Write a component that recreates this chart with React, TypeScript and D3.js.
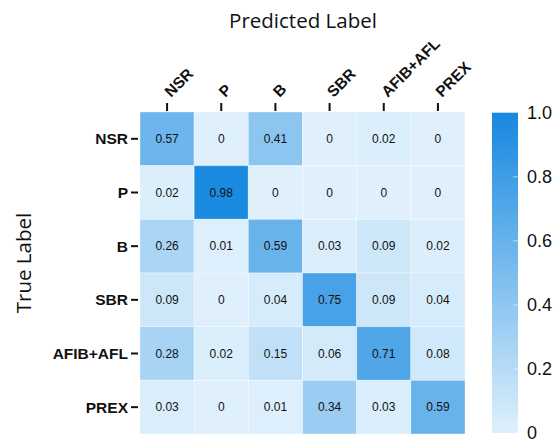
import React from "react";
import * as d3 from "d3";

const predLabels = ["NSR", "P", "B", "SBR", "AFIB+AFL", "PREX"];
const trueLabels = ["NSR", "P", "B", "SBR", "AFIB+AFL", "PREX"];
const rowNSR = [0.57, 0, 0.41, 0, 0.02, 0];
const rowP = [0.02, 0.98, 0, 0, 0, 0];
const rowB = [0.26, 0.01, 0.59, 0.03, 0.09, 0.02];
const rowSBR = [0.09, 0, 0.04, 0.75, 0.09, 0.04];
const rowAFIB = [0.28, 0.02, 0.15, 0.06, 0.71, 0.08];
const rowPREX = [0.03, 0, 0.01, 0.34, 0.03, 0.59];
const matrix = [rowNSR, rowP, rowB, rowSBR, rowAFIB, rowPREX];
const cbTicks = [0, 0.2, 0.4, 0.6, 0.8, 1.0];

const W = 553, H = 439;
const left = 140, right = 465, top = 112, bottom = 434;
const cbX = 492, cbW = 26, cbTop = 112.7, cbBottom = 433;
const FONT = "'Liberation Sans', Arial, sans-serif";

export default function App() {
  const x = d3.scaleBand<string>().domain(predLabels).range([left, right]);
  const y = d3.scaleBand<string>().domain(trueLabels).range([top, bottom]);
  const color = d3.scaleLinear<string>().domain([0, 1]).range(["#dff0fc", "#1788e0"]).interpolate(d3.interpolateRgb);
  const cbY = d3.scaleLinear().domain([0, 1]).range([cbBottom, cbTop]);
  const label = (v: number) => (v === 0 ? "0" : v.toFixed(2));
  const cbFmt = (v: number) => (v === 0 ? "0" : v.toFixed(1));
  const gradStops = d3.range(0, 1.0001, 0.1);

  return (
    <svg width={W} height={H} style={{ position: "absolute", left: 0, top: 0, background: "#fff" }}>
      <defs>
        <linearGradient id="cb" x1="0" y1="1" x2="0" y2="0">
          {gradStops.map((s) => (
            <stop key={s} offset={s} stopColor={color(s)} />
          ))}
        </linearGradient>
      </defs>
      <text x={303} y={28} textAnchor="middle" fontFamily="'Open Sans'" fontSize={20.5} fill="#111">Predicted Label</text>
      <text transform={`translate(31,${263}) rotate(-90)`} textAnchor="middle" fontFamily="'Open Sans'" fontSize={20.5} fill="#111">True Label</text>
      {matrix.map((row, i) =>
        row.map((v, j) => (
          <g key={`${i}-${j}`}>
            <rect x={x(predLabels[j])!} y={y(trueLabels[i])!} width={x.bandwidth()} height={y.bandwidth()} fill={color(v)} stroke="rgba(255,255,255,0.35)" strokeWidth={1} />
            <text x={x(predLabels[j])! + x.bandwidth() / 2} y={y(trueLabels[i])! + y.bandwidth() / 2} dy="0.35em" textAnchor="middle" fontFamily={FONT} fontSize={12} fill="#111">{label(v)}</text>
          </g>
        ))
      )}
      {predLabels.map((p) => {
        const cx = x(p)! + x.bandwidth() / 2;
        return (
          <g key={p}>
            <line x1={cx} x2={cx} y1={103} y2={111} stroke="#111" strokeWidth={2} />
            <text transform={`translate(${cx + 4},${98}) rotate(-45)`} fontFamily={FONT} fontWeight="bold" fontSize={15.5} fill="#111">{p}</text>
          </g>
        );
      })}
      {trueLabels.map((t) => {
        const cy = y(t)! + y.bandwidth() / 2;
        return (
          <g key={t}>
            <line x1={131} x2={138} y1={cy} y2={cy} stroke="#111" strokeWidth={2} />
            <text x={128} y={cy} dy="0.35em" textAnchor="end" fontFamily={FONT} fontWeight="bold" fontSize={15.5} fill="#111">{t}</text>
          </g>
        );
      })}
      <rect x={cbX} y={cbTop} width={cbW} height={cbBottom - cbTop} fill="url(#cb)" />
      {cbTicks.map((t) => (
        <g key={t}>
          {t > 0 && t < 1 && <line x1={cbX + cbW - 5} x2={cbX + cbW} y1={cbY(t)} y2={cbY(t)} stroke="rgba(255,255,255,0.5)" strokeWidth={1} />}
          <text x={527} y={cbY(t)} dy="0.35em" fontFamily={FONT} fontSize={18} fill="#111">{cbFmt(t)}</text>
        </g>
      ))}
    </svg>
  );
}
